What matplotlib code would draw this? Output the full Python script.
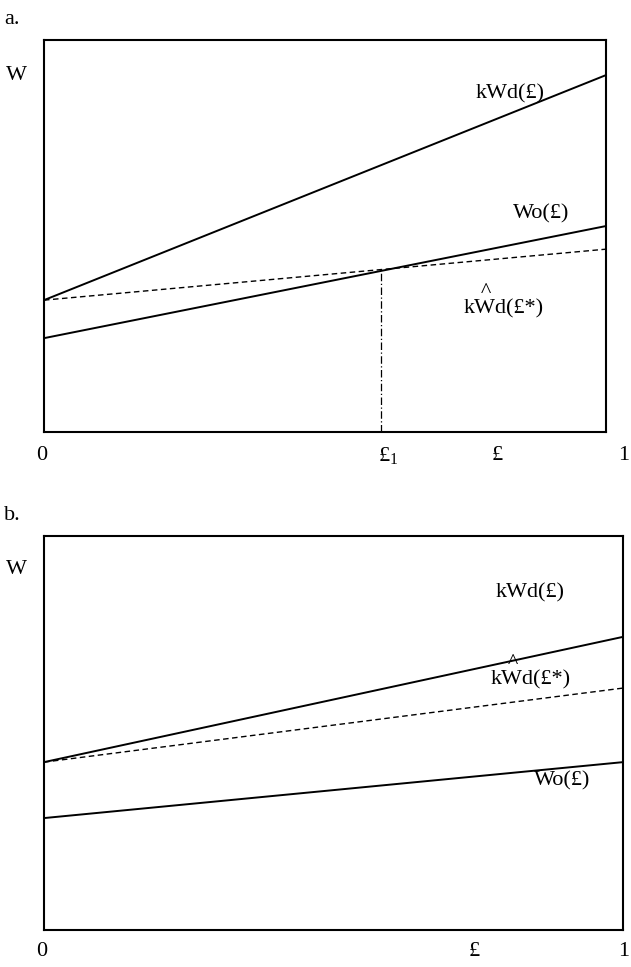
import matplotlib
matplotlib.use("Agg")
import matplotlib.pyplot as plt

plt.rcParams['font.family'] = ['Liberation Serif', 'DejaVu Serif']
plt.rcParams['mathtext.fontset'] = 'custom'
plt.rcParams['mathtext.rm'] = 'Liberation Serif'
plt.rcParams['mathtext.it'] = 'Liberation Serif:italic'
plt.rcParams['mathtext.bf'] = 'Liberation Serif:bold'

# Data (normalized units)
x_ends = [0.0, 1.0]
a_kWd = [0.337, 0.911]
a_Wo = [0.240, 0.526]
a_kWhat = [0.337, 0.467]
a_e1 = 0.6
a_e1_y = [0.0, 0.412]

b_kWd = [0.426, 0.744]
b_kWhat = [0.426, 0.614]
b_Wo = [0.284, 0.426]

fig = plt.figure(figsize=(6.31, 9.67), dpi=100)
axa = fig.add_axes([0.0697, 0.553, 0.8906, 0.4054])
axb = fig.add_axes([0.0697, 0.0383, 0.9176, 0.4074])

for ax in (axa, axb):
    ax.set_xlim(0, 1)
    ax.set_ylim(0, 1)
    ax.set_xticks([])
    ax.set_yticks([])
    for s in ax.spines.values():
        s.set_linewidth(1.5)

fs = 16
lw = 1.4
hat_label = '   ^\nkWd(£*)'


def fpx(ax, px, py):
    inv = ax.transAxes.inverted()
    return inv.transform((px, 967 - py))


def label(ax, px, py, s, **kw):
    x, y = fpx(ax, px, py)
    ax.text(x, y, s, fontsize=kw.pop('fontsize', fs), ha=kw.pop('ha', 'center'),
            va=kw.pop('va', 'center'), clip_on=False, **kw)


# Panel a
axa.plot(x_ends, a_kWd, color='black', lw=lw)
axa.plot(x_ends, a_Wo, color='black', lw=lw)
axa.plot(x_ends, a_kWhat, color='black', lw=1.0, ls=(0, (4, 2.5)))
axa.plot([a_e1, a_e1], a_e1_y, color='black', lw=0.9, ls=(0, (6, 2, 1, 2)))

label(axa, 16, 75, 'W')
label(axa, 510, 94, 'kWd(£)')
label(axa, 541, 214, 'Wo(£)')
label(axa, 464, 318, hat_label, ha='left', va='bottom', multialignment='left', linespacing=0.78)
label(axa, 388, 455, r'£$_{\mathrm{1}}$')
label(axa, 42, 455, '0')
label(axa, 497, 455, '£')
label(axa, 624, 455, '1')
fig.text(12/631, 1 - 19/967, 'a.', fontsize=fs, ha='center', va='center')

# Panel b
axb.plot(x_ends, b_kWd, color='black', lw=lw)
axb.plot(x_ends, b_kWhat, color='black', lw=1.0, ls=(0, (4, 2.5)))
axb.plot(x_ends, b_Wo, color='black', lw=lw)

label(axb, 16, 569, 'W')
label(axb, 530, 593, 'kWd(£)')
label(axb, 491, 689, hat_label, ha='left', va='bottom', multialignment='left', linespacing=0.78)
label(axb, 562, 781, 'Wo(£)')
label(axb, 42, 951, '0')
label(axb, 474, 951, '£')
label(axb, 624, 951, '1')
fig.text(12/631, 1 - 515/967, 'b.', fontsize=fs, ha='center', va='center')

fig.savefig('out.png', dpi=100)
